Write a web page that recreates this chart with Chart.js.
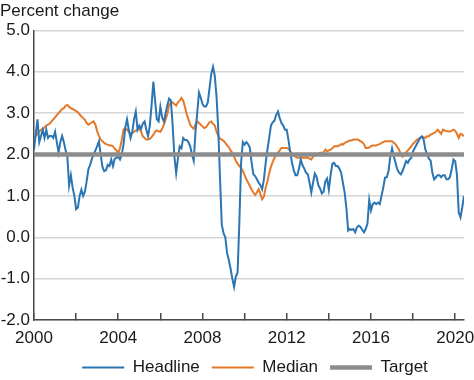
<!DOCTYPE html>
<html>
<head>
<meta charset="utf-8">
<script src="https://cdn.jsdelivr.net/npm/chart.js@4.4.1/dist/chart.umd.min.js"></script>
<style>
  html, body { margin: 0; padding: 0; background: #ffffff; }
  #wrap { width: 474px; height: 380px; position: relative; }
</style>
</head>
<body>
<div id="wrap"><canvas id="c"></canvas></div>
<script>
// Monthly data, January 2000 through June 2020 (percent change from a year earlier)
const START_YEAR = 2000;
const SERIES_NAMES = ['Headline', 'Median', 'Target'];
const HEADLINE = [
  2.12, 2.5, 2.85, 2.3, 2.45, 2.6, 2.4, 2.6, 2.4, 2.45, 2.45, 2.4,
  2.55, 2.3, 2.05, 2.3, 2.45, 2.3, 2.1, 1.95, 1.25, 1.5, 1.2, 1.0,
  0.68, 0.72, 1.0, 1.15, 1.0, 1.1, 1.35, 1.65, 1.75, 1.9, 2.0, 2.1,
  2.2, 2.32, 2.0, 1.7, 1.6, 1.62, 1.75, 1.72, 1.88, 1.72, 1.9, 1.92,
  1.95, 1.88, 2.0, 2.24, 2.65, 2.85, 2.6, 2.4, 2.55, 2.85, 3.04, 2.6,
  2.7, 2.62, 2.75, 2.8, 2.6, 2.45, 2.7, 3.2, 3.76, 3.3, 2.85, 2.8,
  3.15, 2.9, 2.8, 3.0, 3.2, 3.35, 3.3, 2.7, 1.95, 1.55, 1.9, 2.2,
  2.15, 2.4, 2.35, 2.35, 2.3, 2.2, 2.0, 1.85, 2.55, 3.0, 3.5, 3.38,
  3.22, 3.16, 3.16, 3.25, 3.6, 3.95, 4.12, 3.9, 3.4, 2.6, 1.4, 0.3,
  0.1, 0.0, -0.38, -0.55, -0.76, -1.0, -1.2, -0.95, -0.85, 0.35, 1.8, 2.3,
  2.24, 2.3, 2.25, 2.16, 1.8, 1.52, 1.48, 1.4, 1.32, 1.26, 1.16, 1.4,
  1.8, 2.12, 2.4, 2.7, 2.78, 2.82, 2.96, 3.04, 2.88, 2.76, 2.7, 2.6,
  2.6, 2.35, 2.05, 1.8, 1.62, 1.5, 1.5, 1.66, 1.88, 1.74, 1.66, 1.56,
  1.52, 1.32, 1.08, 1.32, 1.54, 1.46, 1.26, 1.18, 1.06, 1.1, 1.35, 1.42,
  1.15, 1.5, 1.78, 1.8, 1.72, 1.72, 1.66, 1.56, 1.32, 1.08, 0.7, 0.16,
  0.2, 0.18, 0.2, 0.12, 0.24, 0.28, 0.25, 0.18, 0.12, 0.2, 0.33, 0.9,
  0.65, 0.8, 0.84, 0.8, 0.84, 0.8, 1.0, 1.2, 1.44, 1.45, 1.6, 1.95,
  2.15, 1.96, 1.8, 1.64, 1.56, 1.52, 1.6, 1.72, 1.84, 1.8, 1.88, 1.92,
  2.08, 2.16, 2.24, 2.32, 2.4, 2.44, 2.36, 2.12, 2.0, 1.9, 1.85, 1.55,
  1.4, 1.45, 1.5, 1.5, 1.45, 1.5, 1.5, 1.4, 1.4, 1.45, 1.65, 1.88,
  1.84, 1.5, 0.6, 0.48, 0.72, 1.0
];
const MEDIAN = [
  2.4, 2.45, 2.5, 2.55, 2.6, 2.62, 2.65, 2.7, 2.72, 2.75, 2.8, 2.85,
  2.9, 2.95, 3.0, 3.05, 3.1, 3.12, 3.18, 3.2, 3.15, 3.12, 3.1, 3.08,
  3.05, 3.02, 2.97, 2.92, 2.88, 2.84, 2.76, 2.72, 2.75, 2.78, 2.8, 2.72,
  2.56, 2.45, 2.36, 2.32, 2.28, 2.25, 2.24, 2.22, 2.22, 2.2, 2.14, 2.1,
  2.04, 2.15, 2.35, 2.6, 2.64, 2.6, 2.55, 2.5, 2.52, 2.55, 2.58, 2.6,
  2.64, 2.55, 2.44, 2.4, 2.36, 2.36, 2.38, 2.42, 2.48, 2.55, 2.58, 2.56,
  2.55, 2.62, 2.72, 2.85, 2.98, 3.2, 3.25, 3.26, 3.22, 3.18, 3.26, 3.3,
  3.37, 3.3, 3.15, 2.98, 2.85, 2.72, 2.66, 2.62, 2.72, 2.8, 2.76, 2.72,
  2.68, 2.64, 2.66, 2.72, 2.78, 2.8, 2.74, 2.7, 2.55, 2.45, 2.38, 2.36,
  2.33, 2.28, 2.22, 2.18, 2.1, 2.04, 1.95, 1.85, 1.78, 1.72, 1.68, 1.6,
  1.5, 1.4, 1.32, 1.24, 1.15, 1.08, 1.02, 1.08, 1.16, 1.05, 0.92, 0.98,
  1.2, 1.35, 1.55, 1.7, 1.82, 1.92, 1.98, 2.04, 2.1, 2.16, 2.16, 2.16,
  2.16, 2.14, 2.08, 2.02, 1.97, 1.95, 1.92, 1.92, 1.95, 1.92, 1.92, 1.93,
  1.92, 1.9, 1.88, 1.95, 1.98, 2.0, 2.02, 2.04, 2.04, 2.05, 2.12, 2.08,
  2.1, 2.12, 2.15, 2.2, 2.2, 2.2, 2.22, 2.25, 2.24, 2.28, 2.3, 2.32,
  2.34, 2.34, 2.36, 2.36, 2.36, 2.35, 2.32, 2.3, 2.25, 2.16, 2.16, 2.17,
  2.2, 2.22, 2.22, 2.22, 2.24, 2.25, 2.28, 2.3, 2.32, 2.32, 2.32, 2.32,
  2.32, 2.28, 2.25, 2.18, 2.12, 2.0, 1.95, 2.0, 2.05, 2.1, 2.15, 2.2,
  2.26, 2.3, 2.35, 2.38, 2.4, 2.42, 2.42, 2.4, 2.44, 2.44, 2.48, 2.5,
  2.52, 2.55, 2.6, 2.55, 2.5, 2.6, 2.58, 2.56, 2.56, 2.55, 2.58, 2.6,
  2.57, 2.5, 2.4, 2.5, 2.48, 2.44
];
const TARGET = [2.0, 2.0]; // first and last month
const X_LABEL_YEARS = [2000, 2004, 2008, 2012, 2016, 2020];
const Y_MIN = -2, Y_MAX = 5;

const monthX = (i) => START_YEAR + i / 12;
const headlinePts = HEADLINE.map((v, i) => ({ x: monthX(i), y: v }));
const medianPts = MEDIAN.map((v, i) => ({ x: monthX(i), y: v }));
const lastX = monthX(HEADLINE.length - 1);
const targetPts = [{ x: monthX(0), y: TARGET[0] }, { x: lastX, y: TARGET[1] }];

const FONT = '"Liberation Sans", Arial, Helvetica, sans-serif';
const TEXT = '#1a1a1a';
const AXIS = '#4a4a4a';

// shift the centred legend block a little to the right, as in the original
const legendShift = {
  id: 'legendShift',
  afterLayout(chart) {
    if (chart.legend) { chart.legend.left += 46; }
  }
};

new Chart(document.getElementById('c'), {
  type: 'line',
  data: {
    datasets: [
      { label: SERIES_NAMES[0], data: headlinePts, borderColor: '#2b75b2', backgroundColor: '#2b75b2', borderWidth: 2, pointRadius: 0, tension: 0, order: 1 },
      { label: SERIES_NAMES[1], data: medianPts, borderColor: '#e5792a', backgroundColor: '#e5792a', borderWidth: 2, pointRadius: 0, tension: 0, order: 2 },
      { label: SERIES_NAMES[2], data: targetPts, borderColor: '#8c8c8c', backgroundColor: '#8c8c8c', borderWidth: 4.5, pointRadius: 0, tension: 0, order: 0 }
    ]
  },
  plugins: [legendShift],
  options: {
    responsive: true,
    maintainAspectRatio: false,
    animation: false,
    devicePixelRatio: 1,
    layout: { padding: { left: 0, right: 10, top: 0, bottom: -6 } },
    plugins: {
      tooltip: { enabled: false },
      title: {
        display: true,
        text: 'Percent change',
        align: 'start',
        color: TEXT,
        font: { family: FONT, size: 17, weight: 'normal' },
        padding: { top: 1.5, bottom: 8.5 }
      },
      legend: {
        position: 'bottom',
        align: 'center',
        labels: {
          usePointStyle: true,
          pointStyle: 'line',
          pointStyleWidth: 42,
          boxHeight: 17,
          padding: 12,
          color: TEXT,
          font: { family: FONT, size: 17 },
          sort: (a, b) => a.datasetIndex - b.datasetIndex
        }
      }
    },
    scales: {
      x: {
        type: 'linear',
        min: START_YEAR,
        max: lastX,
        afterFit: (s) => { s.height = 27; s.paddingLeft = 0; s.paddingRight = 0; },
        grid: { display: true, drawOnChartArea: false, drawTicks: true, tickLength: -7, color: AXIS, lineWidth: 1.5 },
        border: { display: true, color: AXIS, width: 1.5 },
        ticks: {
          stepSize: 2,
          includeBounds: false,
          autoSkip: false,
          maxRotation: 0,
          padding: 15,
          color: TEXT,
          font: { family: FONT, size: 17 },
          callback: (v) => X_LABEL_YEARS.includes(Math.round(v)) ? String(Math.round(v)) : ''
        }
      },
      y: {
        min: Y_MIN,
        max: Y_MAX,
        afterFit: (s) => { s.width = 34; },
        grid: { color: '#d6d6d6', lineWidth: 1.5, drawTicks: false },
        border: { display: true, color: AXIS, width: 1.5 },
        ticks: {
          stepSize: 1,
          padding: 4,
          color: TEXT,
          font: { family: FONT, size: 17 },
          callback: (v) => Number(v).toFixed(1)
        }
      }
    }
  }
});
</script>
</body>
</html>
